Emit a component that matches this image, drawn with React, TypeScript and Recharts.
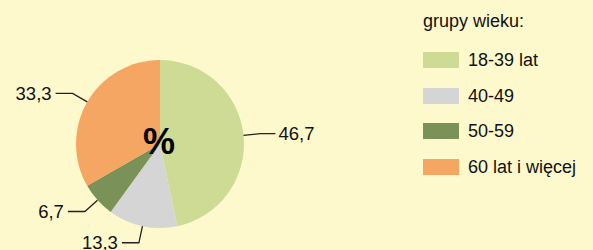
import React from "react";
import { PieChart, Pie, Cell, Legend } from "recharts";

const categories = ["18-39 lat", "40-49", "50-59", "60 lat i więcej"];
const values = [46.7, 13.3, 6.7, 33.3];
const valueLabels = ["46,7", "13,3", "6,7", "33,3"];
const colors = ["#cedb95", "#d5d5d5", "#7a9157", "#f5a662"];
const legendTitle = "grupy wieku:";
const centerText = "%";

const data = categories.map((name, i) => ({ name, value: values[i], label: valueLabels[i] }));

const FONT = "'Liberation Sans', Arial, sans-serif";
const RAD = Math.PI / 180;

const renderLabel = (props: any) => {
  const { cx, cy, midAngle, outerRadius, index } = props;
  const cos = Math.cos(-midAngle * RAD);
  const sin = Math.sin(-midAngle * RAD);
  const x0 = cx + outerRadius * cos;
  const y0 = cy + outerRadius * sin;
  const x1 = cx + (outerRadius + 17) * cos;
  const y1 = cy + (outerRadius + 17) * sin;
  const right = cos >= 0;
  const x2 = x1 + (right ? 15 : -17);
  const tx = x2 + (right ? 3 : -4);
  return (
    <g key={`lbl-${index}`}>
      <polyline points={`${x0},${y0} ${x1},${y1} ${x2},${y1}`} fill="none" stroke="#222" strokeWidth={1.3} />
      <text
        x={tx}
        y={y1}
        textAnchor={right ? "start" : "end"}
        dominantBaseline="central"
        fontSize={18.5}
        fontFamily={FONT}
        fill="#111"
      >
        {data[index].label}
      </text>
    </g>
  );
};

const LegendContent = () => (
  <div style={{ fontFamily: FONT, color: "#111" }}>
    <div style={{ fontSize: 18, lineHeight: "20px", height: 20, marginBottom: 21, whiteSpace: "nowrap" }}>{legendTitle}</div>
    {data.map((d, i) => (
      <div key={d.name} style={{ display: "flex", alignItems: "center", height: 16, marginBottom: i < data.length - 1 ? 19.5 : 0 }}>
        <div style={{ width: 36, height: 16, background: colors[i], marginRight: 9 }} />
        <span style={{ fontSize: 18, lineHeight: "16px", whiteSpace: "nowrap" }}>{d.name}</span>
      </div>
    ))}
  </div>
);

export default function App() {
  return (
    <div style={{ position: "fixed", left: 0, top: 0, width: 593, height: 250, background: "#fef8cd" }}>
      <PieChart width={593} height={250} margin={{ top: 0, right: 0, bottom: 0, left: 0 }}>
        <Pie
          data={data}
          dataKey="value"
          nameKey="name"
          cx={160}
          cy={144}
          outerRadius={84}
          startAngle={90}
          endAngle={-270}
          stroke="none"
          label={renderLabel}
          labelLine={false}
          isAnimationActive={false}
        >
          {data.map((d, i) => (
            <Cell key={d.name} fill={colors[i]} />
          ))}
        </Pie>
        <Legend
          content={<LegendContent />}
          wrapperStyle={{ position: "absolute", left: 423, top: 11, width: 170 }}
        />
      </PieChart>
      <div
        style={{
          position: "absolute",
          left: 119,
          top: 122,
          width: 80,
          height: 40,
          lineHeight: "40px",
          textAlign: "center",
          fontFamily: FONT,
          fontSize: 36,
          fontWeight: "bold",
          color: "#000",
          pointerEvents: "none",
        }}
      >
        {centerText}
      </div>
    </div>
  );
}
